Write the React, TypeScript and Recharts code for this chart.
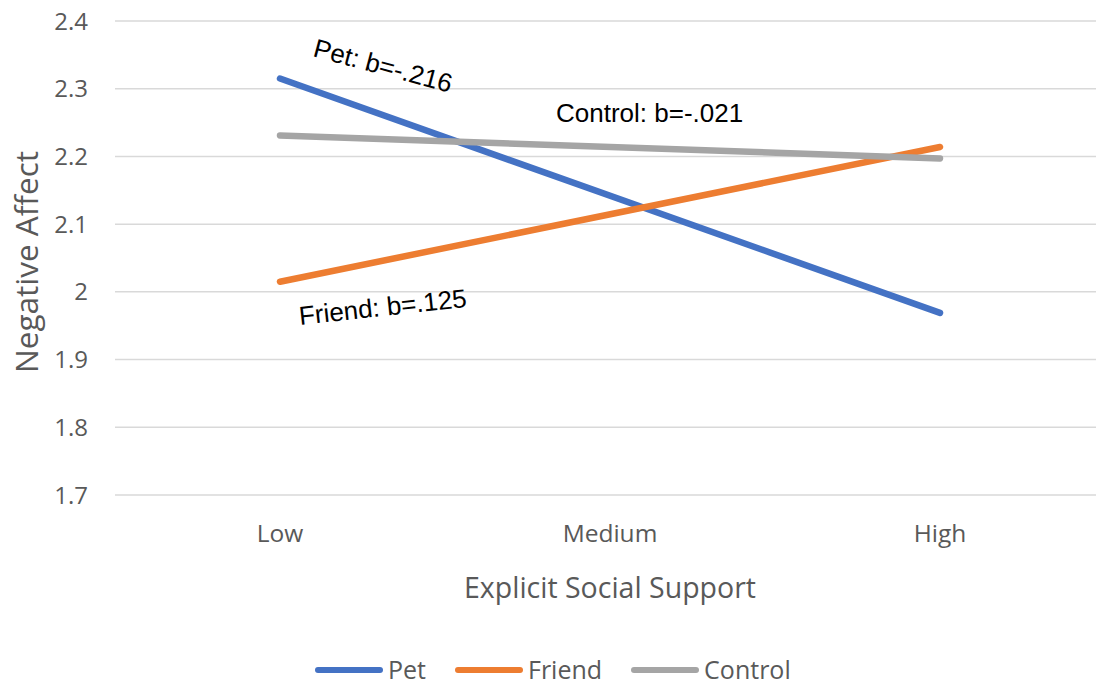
import { LineChart, Line, XAxis, YAxis, CartesianGrid, Customized } from 'recharts'

// Simple slopes of negative affect across levels of explicit social support
const categories = ['Low', 'Medium', 'High']
const petValues = [2.315, null, 1.969]
const friendValues = [2.015, null, 2.214]
const controlValues = [2.231, null, 2.197]
const yTicks = [1.7, 1.8, 1.9, 2, 2.1, 2.2, 2.3, 2.4]

const series = [
  { key: 'pet', name: 'Pet', color: '#4472C4', values: petValues },
  { key: 'friend', name: 'Friend', color: '#ED7D31', values: friendValues },
  { key: 'control', name: 'Control', color: '#A5A5A5', values: controlValues },
]

const data = categories.map((category, i) => {
  const row: Record<string, string | number | null> = { category }
  series.forEach((s) => {
    row[s.key] = s.values[i]
  })
  return row
})

const GRAY = '#595959'
const UI_FONT = '"Open Sans", sans-serif'
const NOTE_FONT = '"Liberation Sans", Arial, sans-serif'

function Annotations() {
  return (
    <g>
      <text x={312} y={56} fontFamily={NOTE_FONT} fontSize={26} fill="#000" transform="rotate(15 312 56)">
        Pet: b=-.216
      </text>
      <text x={556} y={122} fontFamily={NOTE_FONT} fontSize={26} fill="#000">
        Control: b=-.021
      </text>
      <text x={300} y={325} fontFamily={NOTE_FONT} fontSize={26} fill="#000" transform="rotate(-6.2 300 325)">
        Friend: b=.125
      </text>
      <text x={610} y={598} textAnchor="middle" fontFamily={UI_FONT} fontSize={28.5} fill={GRAY}>
        Explicit Social Support
      </text>
      <text
        x={38}
        y={262}
        textAnchor="middle"
        fontFamily={UI_FONT}
        fontSize={31.5}
        fill={GRAY}
        transform="rotate(-90 38 262)"
      >
        Negative Affect
      </text>
    </g>
  )
}

export default function App() {
  return (
    <div
      style={{
        position: 'fixed',
        top: 0,
        left: 0,
        width: 1096,
        height: 688,
        overflow: 'hidden',
        background: '#fff',
      }}
    >
      <LineChart width={1110} height={688} data={data} margin={{ top: 21, right: 5, bottom: 163, left: 0 }}>
        <CartesianGrid vertical={false} stroke="#D9D9D9" strokeWidth={1.5} />
        <XAxis
          dataKey="category"
          height={30}
          padding={{ left: 165, right: 165 }}
          axisLine={false}
          tickLine={false}
          tickSize={0}
          tickMargin={30}
          tick={{ fill: GRAY, fontSize: 24.5, fontFamily: UI_FONT }}
        />
        <YAxis
          width={115}
          domain={[1.7, 2.4]}
          ticks={yTicks}
          axisLine={false}
          tickLine={false}
          tickSize={0}
          tickMargin={27}
          tickFormatter={(v: number) => String(Number(v.toFixed(1)))}
          tick={{ fill: GRAY, fontSize: 24, fontFamily: UI_FONT }}
        />
        {series.map((s) => (
          <Line
            key={s.key}
            dataKey={s.key}
            name={s.name}
            stroke={s.color}
            strokeWidth={6.5}
            strokeLinecap="round"
            connectNulls
            dot={false}
            activeDot={false}
            isAnimationActive={false}
          />
        ))}
        <Customized component={Annotations} />
      </LineChart>

      <div
        style={{
          position: 'absolute',
          left: 315,
          top: 657,
          height: 25,
          display: 'flex',
          alignItems: 'center',
          fontFamily: UI_FONT,
          fontSize: 25,
          lineHeight: '25px',
          color: GRAY,
        }}
      >
        {series.map((s) => (
          <div key={s.key} style={{ display: 'flex', alignItems: 'center', marginRight: 29 }}>
            <span
              style={{
                display: 'inline-block',
                width: 68,
                height: 6,
                borderRadius: 3,
                background: s.color,
                marginRight: 5,
              }}
            />
            <span>{s.name}</span>
          </div>
        ))}
      </div>
    </div>
  )
}
